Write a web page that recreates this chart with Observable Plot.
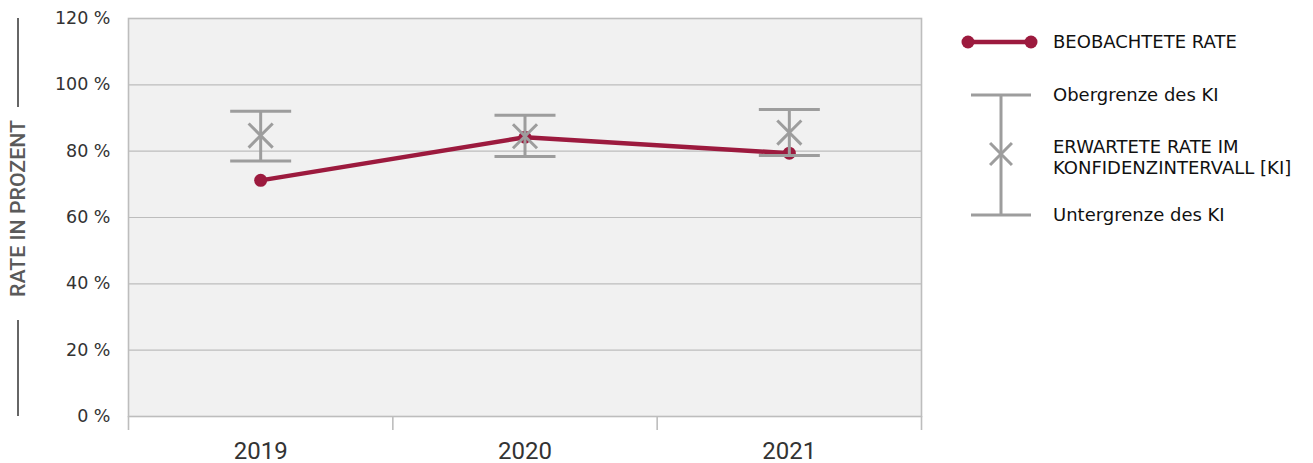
<!DOCTYPE html>
<html>
<head>
<meta charset="utf-8">
<script src="https://cdn.jsdelivr.net/npm/d3@7"></script>
<script src="https://cdn.jsdelivr.net/npm/@observablehq/plot@0.6"></script>
<style>
  html, body { margin: 0; padding: 0; background: #ffffff; }
  #chart { position: relative; width: 1313px; height: 463px; }
  svg { font-family: "DejaVu Sans", sans-serif; }
</style>
</head>
<body>
<div id="chart"></div>
<script>
// ---- data ----
const years = ["2019", "2020", "2021"];
const observed = [71.2, 84.2, 79.4];
const expected = [84.7, 84.5, 85.6];
const upperCI = [92.0, 90.8, 92.6];
const lowerCI = [77.0, 78.4, 78.7];
const yTicks = [0, 20, 40, 60, 80, 100, 120];
const yLabel = "RATE IN PROZENT";
const legendObserved = "BEOBACHTETE RATE";
const legendUpper = "Obergrenze des KI";
const legendExpected = ["ERWARTETE RATE IM", "KONFIDENZINTERVALL [KI]"];
const legendLower = "Untergrenze des KI";

const red = "#9c1a3e";
const gray = "#9d9d9d";

const data = years.map((y, i) => ({
  i, year: y, obs: observed[i], exp: expected[i], up: upperCI[i], lo: lowerCI[i]
}));

// horizontal cap symbol: half-width equals r
const capSymbol = {
  draw(context, size) {
    const w = Math.sqrt(size / Math.PI);
    context.moveTo(-w, 0);
    context.lineTo(w, 0);
  }
};

const chart = Plot.plot({
  width: 1313,
  height: 463,
  marginLeft: 128,
  marginRight: 392,
  marginTop: 18,
  marginBottom: 47,
  x: { type: "linear", domain: [-0.5, years.length - 0.5] },
  y: { domain: [0, 120] },
  style: { fontFamily: "DejaVu Sans, sans-serif", background: "transparent", overflow: "visible" },
  marks: [
    Plot.frame({ fill: "#f1f1f1" }),
    Plot.gridY(yTicks, { stroke: "#bdbdbd", strokeOpacity: 1, strokeWidth: 1.2 }),
    Plot.frame({ stroke: "#bdbdbd", strokeWidth: 1.6 }),
    Plot.axisY(yTicks, {
      tickSize: 0, tickPadding: 18, fontSize: 17.5, fill: "#333",
      tickFormat: d => d + " %", label: null
    }),
    // band dividers below the plot
    Plot.axisX(d3.range(years.length + 1).map(k => k - 0.5), {
      tickSize: 14, stroke: "#bdbdbd", strokeWidth: 1.6, tickFormat: null, text: null, label: null
    }),
    Plot.axisX(d3.range(years.length), {
      tickSize: 0, tickPadding: 25, fontSize: 24, fill: "#333",
      fontFamily: "Roboto, sans-serif",
      tickFormat: i => years[i], label: null
    }),
    // observed rate
    Plot.line(data, { x: "i", y: "obs", stroke: red, strokeWidth: 4.5 }),
    Plot.dot(data, { x: "i", y: "obs", r: 6.5, fill: red, stroke: "none" }),
    // confidence interval
    Plot.ruleX(data, { x: "i", y1: "lo", y2: "up", stroke: gray, strokeWidth: 3 }),
    Plot.dot(data, { x: "i", y: "up", symbol: capSymbol, r: 30.5, stroke: gray, strokeWidth: 3, fill: "none" }),
    Plot.dot(data, { x: "i", y: "lo", symbol: capSymbol, r: 30.5, stroke: gray, strokeWidth: 3, fill: "none" }),
    Plot.dot(data, { x: "i", y: "exp", symbol: "times", r: 11, stroke: gray, strokeWidth: 3 })
  ]
});

document.getElementById("chart").appendChild(chart);

// ---- y label decoration ----
const svg = d3.select(chart);
const deco = svg.append("g");
deco.append("line").attr("x1", 18).attr("x2", 18).attr("y1", 18).attr("y2", 107)
  .attr("stroke", "#666").attr("stroke-width", 2);
deco.append("line").attr("x1", 18).attr("x2", 18).attr("y1", 320).attr("y2", 416)
  .attr("stroke", "#666").attr("stroke-width", 2);
deco.append("text")
  .attr("transform", "translate(25,208.5) rotate(-90)")
  .attr("text-anchor", "middle")
  .attr("font-family", "Roboto, sans-serif")
  .attr("font-weight", 500)
  .attr("font-size", 21)
  .attr("textLength", 177)
  .attr("lengthAdjust", "spacingAndGlyphs")
  .attr("fill", "#5a5a5a")
  .text(yLabel);

// ---- legend ----
const lg = svg.append("g")
  .attr("font-family", "DejaVu Sans, sans-serif")
  .attr("font-size", 18)
  .attr("text-anchor", "start")
  .attr("fill", "#111");
// observed swatch
lg.append("line").attr("x1", 968).attr("x2", 1031).attr("y1", 42).attr("y2", 42).attr("stroke", red).attr("stroke-width", 4.5);
lg.append("circle").attr("cx", 968).attr("cy", 42).attr("r", 6.5).attr("fill", red);
lg.append("circle").attr("cx", 1031).attr("cy", 42).attr("r", 6.5).attr("fill", red);
lg.append("text").attr("x", 1053).attr("y", 42).attr("dy", "0.35em").text(legendObserved);
// CI swatch
lg.append("line").attr("x1", 1001).attr("x2", 1001).attr("y1", 95).attr("y2", 215).attr("stroke", gray).attr("stroke-width", 3);
lg.append("line").attr("x1", 971).attr("x2", 1031).attr("y1", 95).attr("y2", 95).attr("stroke", gray).attr("stroke-width", 3);
lg.append("line").attr("x1", 971).attr("x2", 1031).attr("y1", 215).attr("y2", 215).attr("stroke", gray).attr("stroke-width", 3);
lg.append("path").attr("transform", "translate(1001,154)")
  .attr("d", d3.symbol(d3.symbolTimes, Math.PI * 100)())
  .attr("stroke", gray).attr("stroke-width", 3).attr("fill", "none");
lg.append("text").attr("x", 1053).attr("y", 95).attr("dy", "0.35em").text(legendUpper);
lg.append("text").attr("x", 1053).attr("y", 146.5).attr("dy", "0.35em").text(legendExpected[0]);
lg.append("text").attr("x", 1053).attr("y", 168).attr("dy", "0.35em").text(legendExpected[1]);
lg.append("text").attr("x", 1053).attr("y", 215).attr("dy", "0.35em").text(legendLower);
</script>
</body>
</html>
